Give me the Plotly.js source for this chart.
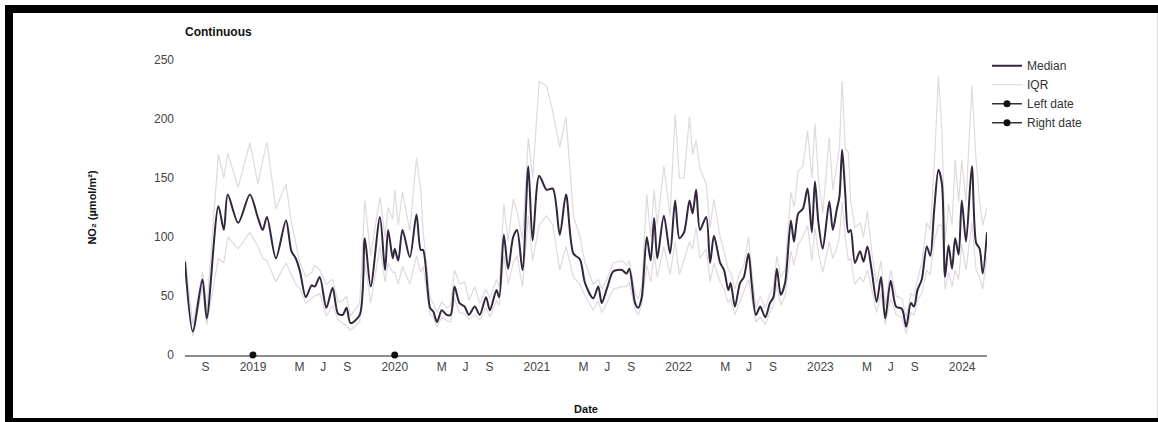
<!DOCTYPE html>
<html>
<head>
<meta charset="utf-8">
<script src="https://cdn.plot.ly/plotly-3.0.1.min.js"></script>
<style>
  html, body { margin: 0; padding: 0; background: #fff; overflow: hidden; }
  #wrap { position: relative; width: 1158px; height: 422px; overflow: hidden; }
  .bar { position: absolute; background: #000; pointer-events: none; }
</style>
</head>
<body>
<div id="wrap">
  <div id="chart"></div>
  <div class="bar" style="left:5px; top:5px; width:1153px; height:8px;"></div>
  <div class="bar" style="left:5px; top:5px; width:8px; height:417px;"></div>
  <div class="bar" style="left:5px; top:418px; width:1153px; height:4px;"></div>
  <div class="bar" style="left:1157px; top:13px; width:1px; height:405px; background:#d8d8d8;"></div>
</div>
<script>
const dates = [
 '2018-07-10','2018-07-30','2018-08-24','2018-09-04','2018-10-04','2018-10-18','2018-10-28','2018-11-24','2018-12-24','2019-01-14',
 '2019-01-26','2019-02-06','2019-03-01','2019-03-27','2019-04-10','2019-04-21','2019-05-02','2019-05-17','2019-06-01','2019-06-09',
 '2019-06-22','2019-07-09','2019-07-25','2019-08-08','2019-08-20','2019-08-30','2019-09-09','2019-10-03','2019-10-16','2019-10-31',
 '2019-11-24','2019-12-07','2019-12-15','2019-12-27','2020-01-01','2020-01-10','2020-01-21','2020-02-09','2020-02-26','2020-03-08',
 '2020-03-14','2020-04-01','2020-04-09','2020-04-19','2020-05-01','2020-05-14','2020-05-24','2020-06-03','2020-06-16','2020-06-29',
 '2020-07-10','2020-07-25','2020-08-07','2020-08-23','2020-09-02','2020-09-19','2020-09-26','2020-10-08','2020-10-19','2020-11-01',
 '2020-11-11','2020-11-25','2020-12-10','2020-12-21','2021-01-07','2021-01-26','2021-02-11','2021-03-01','2021-03-17','2021-04-05',
 '2021-04-22','2021-05-05','2021-05-26','2021-06-08','2021-06-17','2021-06-30','2021-07-17','2021-08-08','2021-08-20','2021-08-27',
 '2021-09-11','2021-09-19','2021-09-28','2021-10-11','2021-10-21','2021-10-30','2021-11-07','2021-11-24','2021-12-10','2021-12-23',
 '2022-01-03','2022-01-15','2022-01-29','2022-02-06','2022-02-15','2022-02-25','2022-03-13','2022-03-23','2022-04-02','2022-04-18',
 '2022-04-28','2022-05-09','2022-05-15','2022-05-26','2022-06-08','2022-06-18','2022-06-30','2022-07-08','2022-07-19','2022-07-30',
 '2022-08-12','2022-08-24','2022-09-02','2022-09-11','2022-09-21','2022-10-02','2022-10-17','2022-10-25','2022-11-05','2022-11-17',
 '2022-11-29','2022-12-10','2022-12-18','2022-12-27','2023-01-07','2023-01-24','2023-02-02','2023-02-12','2023-02-19','2023-02-26',
 '2023-03-06','2023-03-14','2023-03-20','2023-03-31','2023-04-13','2023-04-22','2023-05-02','2023-05-13','2023-05-26','2023-06-06',
 '2023-06-17','2023-07-01','2023-07-15','2023-07-30','2023-08-10','2023-08-22','2023-08-30','2023-09-08','2023-09-19','2023-10-02',
 '2023-10-11','2023-10-21','2023-11-01','2023-11-10','2023-11-18','2023-11-27','2023-12-06','2023-12-14','2023-12-23','2023-12-31',
 '2024-01-11','2024-01-26','2024-02-06','2024-02-15','2024-02-23','2024-03-05'
];
const median = [
 79,20,64,31,126,106,136,112,136,116,
 106,117,82,114,88,82,71,49,59,58,
 66,40,57,35,34,40,27,34,99,58,
 117,72,106,82,90,80,106,83,119,89,
 89,40,37,28,38,34,34,58,44,41,
 34,41,34,49,38,55,49,102,73,100,
 106,72,160,97,152,140,141,102,136,86,
 81,61,48,58,44,56,71,72,69,73,
 44,40,49,100,80,116,82,118,86,131,
 99,104,131,120,140,106,117,78,101,78,
 72,55,61,41,61,66,86,61,34,41,
 32,44,49,73,51,61,114,96,120,124,
 141,104,147,112,90,130,106,123,134,174,
 137,104,106,78,88,79,92,72,45,66,
 31,63,41,39,24,44,41,55,64,92,
 84,123,157,145,66,93,73,99,85,131,
 96,160,95,90,69,104
];
const iqrUpper = [
 84,26,70,38,170,150,171,142,180,145,
 165,180,124,145,112,95,78,66,70,76,
 72,60,64,45,46,50,33,44,131,84,
 134,100,125,115,140,110,138,105,167,140,
 105,48,44,36,45,40,42,72,60,62,
 46,58,44,56,48,64,58,128,96,132,
 122,98,184,150,232,228,206,176,202,118,
 100,78,60,64,56,64,78,80,76,80,
 52,48,58,136,100,140,110,160,118,204,
 150,150,202,170,182,158,145,108,132,100,
 88,72,70,56,70,76,100,72,40,50,
 40,52,58,84,66,72,138,125,156,160,
 190,150,196,150,120,184,140,160,175,232,
 175,172,130,108,112,100,122,88,60,80,
 42,72,50,48,32,52,50,64,78,112,
 106,160,236,190,96,128,110,165,130,165,
 130,228,165,130,110,125
];
const iqrLower = [
 72,16,58,26,82,78,100,90,104,92,
 82,80,62,78,68,60,56,44,48,50,
 52,33,42,30,27,25,21,28,78,44,
 92,62,78,70,70,60,75,60,84,70,
 75,34,32,24,32,29,28,48,36,35,
 30,34,30,40,32,46,42,84,60,78,
 84,58,118,80,110,118,110,72,92,66,
 60,50,38,46,36,44,56,58,58,62,
 38,34,42,76,62,86,66,92,68,96,
 68,82,96,90,108,82,90,62,78,62,
 56,44,48,34,46,54,64,48,28,32,
 26,36,42,60,42,50,88,76,94,100,
 110,80,108,86,70,96,82,90,100,130,
 100,80,82,60,66,62,72,56,36,52,
 26,48,34,32,18,36,34,46,52,72,
 68,96,110,110,56,70,58,72,64,94,
 72,112,72,66,56,84
];
const leftDate = ['2019-01-01'];
const rightDate = ['2020-01-01'];
const markerValue = [0];

const xTickVals = ['2018-09-01','2019-01-01','2019-05-01','2019-07-01','2019-09-01',
 '2020-01-01','2020-05-01','2020-07-01','2020-09-01',
 '2021-01-01','2021-05-01','2021-07-01','2021-09-01',
 '2022-01-01','2022-05-01','2022-07-01','2022-09-01',
 '2023-01-01','2023-05-01','2023-07-01','2023-09-01','2024-01-01'];
const xTickText = ['S','2019','M','J','S','2020','M','J','S','2021','M','J','S',
 '2022','M','J','S','2023','M','J','S','2024'];
const yTickVals = [0,50,100,150,200,250];

const traces = [
  {x: dates, y: iqrUpper, type: 'scatter', mode: 'lines', name: 'IQR', legendgroup: 'iqr',
   legendrank: 2, line: {color: '#dedade', width: 1.2}, hoverinfo: 'skip'},
  {x: dates, y: iqrLower, type: 'scatter', mode: 'lines', name: 'IQR', legendgroup: 'iqr',
   showlegend: false, line: {color: '#dedade', width: 1.2}, hoverinfo: 'skip'},
  {x: dates, y: median, type: 'scatter', mode: 'lines', name: 'Median', legendrank: 1,
   line: {color: '#33263d', width: 2, shape: 'spline', smoothing: 0.8}},
  {x: leftDate, y: markerValue, type: 'scatter', mode: 'lines+markers', name: 'Left date',
   legendrank: 3, cliponaxis: false, line: {color: '#333', width: 1.5},
   marker: {color: '#111', size: 7}},
  {x: rightDate, y: markerValue, type: 'scatter', mode: 'lines+markers', name: 'Right date',
   legendrank: 4, cliponaxis: false, line: {color: '#333', width: 1.5},
   marker: {color: '#111', size: 7}}
];

const layout = {
  width: 1158, height: 422,
  margin: {l: 185, r: 171, t: 60, b: 67},
  paper_bgcolor: '#fff', plot_bgcolor: '#fff',
  font: {family: '"Liberation Sans", Arial, sans-serif', size: 12, color: '#333'},
  title: {text: '<b>Continuous</b>', xref: 'paper', x: 0, xanchor: 'left',
          yref: 'container', y: 1 - 32/422, yanchor: 'middle',
          font: {size: 12, color: '#111'}},
  showlegend: true,
  legend: {x: 1.0, xanchor: 'left', y: 1.03, yanchor: 'top',
           font: {size: 12, color: '#333'}, bgcolor: 'rgba(0,0,0,0)', traceorder: 'normal'},
  xaxis: {type: 'date', range: ['2018-07-10', '2024-03-05'],
          tickmode: 'array', tickvals: xTickVals, ticktext: xTickText,
          showgrid: false, zeroline: false, showline: true, linecolor: '#8c8c8c', linewidth: 2,
          ticks: '', layer: 'below traces', tickfont: {size: 12, color: '#444'},
          title: {text: '<b>Date</b>', standoff: 32, font: {size: 11, color: '#111'}}},
  yaxis: {range: [0, 250], tickmode: 'array', tickvals: yTickVals,
          showgrid: false, zeroline: false, showline: false, ticks: '',
          ticklabelstandoff: 10, tickfont: {size: 12, color: '#444'},
          title: {text: '<b>NO₂ (µmol/m²)</b>', standoff: 55, font: {size: 11, color: '#111'}}}
};

Plotly.newPlot('chart', traces, layout, {displayModeBar: false, staticPlot: true});
</script>
</body>
</html>
